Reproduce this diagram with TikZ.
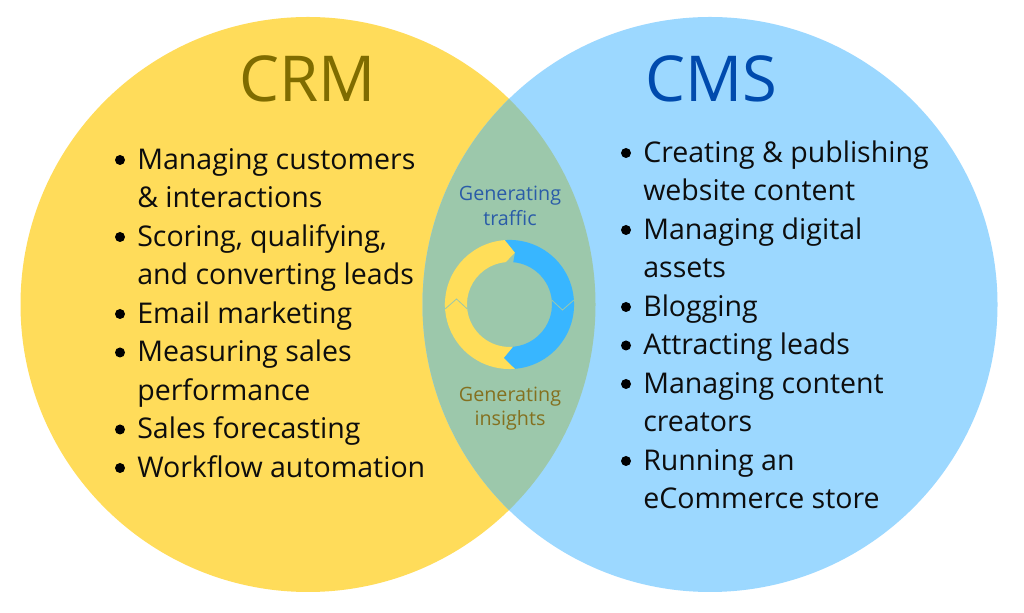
\documentclass[tikz,border=0pt]{standalone}
\usepackage{fontspec}
\setmainfont{Open Sans}
\usepackage{xcolor}
\definecolor{crmyellow}{HTML}{FFDC5A}
\definecolor{cmsblue}{HTML}{9CD8FF}
\definecolor{overlap}{HTML}{9CC8AB}
\definecolor{ringblue}{HTML}{38B6FF}
\definecolor{ringyellow}{HTML}{FFDE59}
\definecolor{crmtitle}{HTML}{7F6C00}
\definecolor{cmstitle}{HTML}{004AAD}
\definecolor{trafficlabel}{HTML}{2A5CA8}
\definecolor{insightlabel}{HTML}{84701F}
\tikzset{
    x=0.75pt,
    y=0.75pt,
    listline/.style={anchor=base west,inner sep=0,text=black!95,font=\fontsize{21.4}{25}\selectfont},
    dotmark/.style={circle,fill=black,inner sep=0,minimum size=7.5pt},
    title/.style={anchor=base,inner sep=0,font=\fontsize{47.5}{56}\selectfont},
    ringlabel/.style={anchor=base,inner sep=0,font=\fontsize{14.8}{17}\selectfont},
}
\newcommand{\textline}[4] {
    \node[listline] (#1) at (#2,{613-#3-1.5}) {#4};
}
\newcommand{\bulletline}[4] {
    \node[dotmark] (#1dot) at ({#2-17},{613-#3+8}) {};
    \textline{#1}{#2}{#3}{#4}
}
\begin{document}
\begin{tikzpicture}
    \useasboundingbox[fill=white] (0,0) rectangle (1024,613);
    % circles
    \fill[crmyellow] (308,308.5) circle (287.5);
    \fill[cmsblue] (710,308.5) circle (287.5);
    \begin{scope}
        \clip (308,308.5) circle (287.5);
        \fill[overlap] (710,308.5) circle (287.5);
    \end{scope}
    % titles
    \node[title,text=crmtitle] (crmlabel) at (307.5,511.5) {CRM};
    \node[title,text=cmstitle] (cmslabel) at (711,511.5) {CMS};
    % left list
    \bulletline{a}{137}{168}{Managing customers}
    \textline{b}{137}{206.5}{\& interactions}
    \bulletline{c}{137}{245}{Scoring, qualifying,}
    \textline{d}{137}{283.5}{and converting leads}
    \bulletline{e}{137}{322}{Email marketing}
    \bulletline{f}{137}{360.5}{Measuring sales}
    \textline{g}{137}{399}{performance}
    \bulletline{h}{137}{437.5}{Sales forecasting}
    \bulletline{i}{137}{476}{Workflow automation}
    % right list
    \bulletline{k}{643}{161}{Creating \& publishing}
    \textline{l}{643}{199.5}{website content}
    \bulletline{m}{643}{238}{Managing digital}
    \textline{n}{643}{276.5}{assets}
    \bulletline{o}{643}{315}{Blogging}
    \bulletline{p}{643}{353.5}{Attracting leads}
    \bulletline{q}{643}{392}{Managing content}
    \textline{r}{643}{430.5}{creators}
    \bulletline{s}{643}{469}{Running an}
    \textline{t}{643}{507.5}{eCommerce store}
    % ring labels
    \node[ringlabel,text=trafficlabel] (traffica) at (510,412.5) {Generating};
    \node[ringlabel,text=trafficlabel] (trafficb) at (510,387.5) {traffic};
    \node[ringlabel,text=insightlabel] (insighta) at (510,211) {Generating};
    \node[ringlabel,text=insightlabel] (insightb) at (510,187) {insights};
    % ring
    \begin{scope}[shift={(509.5,308.5)}]
        \coordinate (topouter) at (-4.5,64.4);
        \coordinate (toptip) at (5.5,52);
        \coordinate (leftouter) at (-64.4,-4.5);
        \coordinate (lefttip) at (-53,5.5);
        \coordinate (leftinner) at (-42.3,-4.4);
        \coordinate (rightouter) at (64.4,4.5);
        \coordinate (righttip) at (53,-5.5);
        \coordinate (rightinner) at (42.3,4.4);
        \coordinate (bottomouter) at (5.6,-64.3);
        \coordinate (bottomtip) at (-5.5,-53.5);
        \fill[ringyellow] (topouter) arc (94:184:64.56) -- (lefttip) -- (leftinner)
            arc (186:95:42.5) -- (toptip) -- cycle;
        \fill[ringyellow] (leftouter) -- (lefttip) -- (leftinner) arc (186:275:42.5)
            -- (bottomtip) -- (bottomouter) arc (275:176:64.56) -- cycle;
        \fill[ringblue] (topouter) arc (94:4:64.56) -- (righttip) -- (rightinner)
            arc (6:85:42.5) -- (toptip) -- cycle;
        \fill[ringblue] (rightouter) arc (4:-85:64.56) -- (bottomtip)
            -- (3.7,-42.3) arc (-85:6:42.5) -- (righttip) -- cycle;
        \draw[overlap,line width=0.6pt] (leftouter) -- (lefttip) -- (leftinner);
        \draw[overlap,line width=0.6pt] (rightouter) -- (righttip) -- (rightinner);
    \end{scope}
\end{tikzpicture}
\end{document}
